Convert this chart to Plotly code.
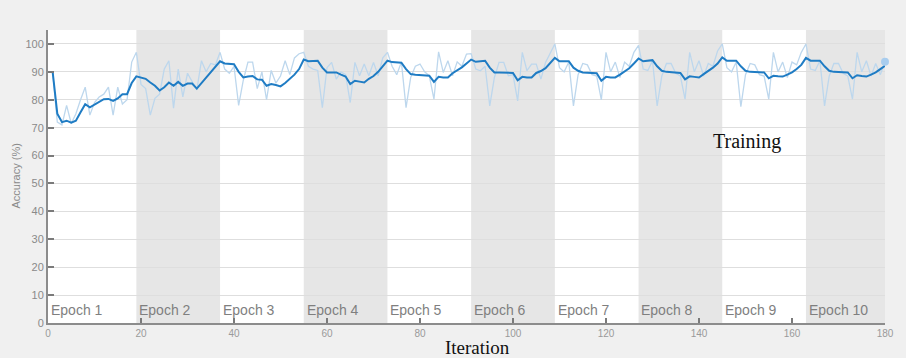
import plotly.graph_objects as go

# Training progress: per-iteration accuracy (%), 10 epochs x 18 iterations
iterations = list(range(1, 181))
iters_per_epoch = 18
epoch_labels = [f"Epoch {k}" for k in range(1, 11)]

# raw mini-batch accuracy, one list per epoch
raw_e1 = [90, 72, 71, 78, 71.5, 75, 80, 84.5, 74.5, 79, 81, 82, 84.5, 74.5, 84.5, 78.5, 80, 93.5]
raw_e2 = [97, 85.5, 84, 74.5, 80.5, 82, 91, 94, 77, 91, 81, 89.5, 86.5, 83.5, 94, 90, 93, 92.5]
raw_e3 = [97, 91, 89.5, 92, 78, 87, 93.5, 93.5, 84, 90, 80, 90.5, 86, 88.5, 94, 89, 95, 96.5]
raw_e4 = [97, 92, 91, 90.5, 77.2, 91.5, 93.4, 87.4, 90, 89, 79, 93.4, 88.6, 92.8, 88.6, 93.4, 88.6, 95]
raw_e5 = [97, 92, 89, 93.5, 77.2, 88, 92, 92.8, 90, 88.6, 80.2, 97.2, 89.8, 94, 88.6, 93.6, 92, 96.4]
raw_e6 = [96.5, 91, 90.4, 92, 77.8, 88, 93.4, 93.4, 88.6, 89, 79.6, 97, 90.4, 92.8, 92.8, 87.4, 93.4, 97]
raw_e7 = [100, 91.5, 90, 93.5, 77.8, 89, 93, 92.5, 89, 88.5, 80, 97, 90, 93.5, 88, 93.5, 92, 97]
raw_e8 = [99.5, 91, 90.5, 94, 77.8, 88.5, 93, 93, 89.5, 88.5, 80.2, 97, 90, 94, 88.5, 93, 92, 97.5]
raw_e9 = [100, 91.5, 90, 93.5, 77.5, 89, 93, 92.5, 89, 88.5, 80.2, 97, 90, 93.5, 88, 93.5, 92.5, 97]
raw_e10 = [100, 91, 90.5, 94, 77.8, 88.5, 93, 93, 89.5, 88.5, 80.2, 97, 90, 94, 88.5, 93, 89, 93.6]

# smoothed accuracy, one list per epoch
smooth_e1 = [90, 75, 72, 72.5, 71.8, 72.5, 75.5, 78.4, 77.3, 78.3, 79, 80.2, 80.3, 79.6, 80.5, 82, 82, 86]
smooth_e2 = [88.4, 88, 87.5, 86.2, 85, 83.3, 84.5, 86.2, 85, 86.4, 85, 85.8, 85.8, 84, 86, 87.8, 90, 92]
smooth_e3 = [93.8, 93, 92.8, 92.7, 90, 88, 88.3, 88.5, 87.3, 87.2, 85, 85.6, 85.3, 84.8, 86, 87.5, 89, 91]
smooth_e4 = [94.4, 93.8, 93.8, 94, 91.5, 89.8, 89.8, 89.8, 89, 88.3, 85.6, 86.8, 86.5, 86.2, 87.5, 88.5, 90, 91.8]
smooth_e5 = [94, 93.5, 93.4, 93.3, 91, 89.2, 89, 88.8, 88.6, 88.6, 86.4, 88.2, 88, 88, 89.5, 90.5, 91.6, 93]
smooth_e6 = [94.4, 93.6, 93.8, 94, 91.5, 89.8, 89.8, 89.8, 89.7, 89.6, 87, 88.2, 88, 88, 89.6, 90.3, 91.3, 93]
smooth_e7 = [95, 93.8, 93.8, 93.8, 91.5, 90.4, 89.8, 89.7, 89.5, 89.5, 86.8, 88.2, 88, 88, 89, 90, 91.3, 93]
smooth_e8 = [94.8, 93.8, 93.9, 94.2, 92, 90.4, 90, 89.8, 89.8, 89.6, 87.3, 88.4, 88.2, 88, 89.2, 90.2, 91.5, 93]
smooth_e9 = [95.2, 94, 94, 94, 92, 90.4, 90, 90, 89.9, 89.8, 87.7, 88.6, 88.4, 88.3, 89, 89.8, 91, 92.5]
smooth_e10 = [95, 94, 94, 94, 92, 90.4, 90, 90, 89.8, 89.8, 87.7, 88.8, 88.5, 88.3, 89, 89.8, 91, 92.2]

raw_acc = (raw_e1 + raw_e2 + raw_e3 + raw_e4 + raw_e5
           + raw_e6 + raw_e7 + raw_e8 + raw_e9 + raw_e10)
smooth_acc = (smooth_e1 + smooth_e2 + smooth_e3 + smooth_e4 + smooth_e5
              + smooth_e6 + smooth_e7 + smooth_e8 + smooth_e9 + smooth_e10)

y_ticks = list(range(0, 101, 10))
x_ticks = list(range(0, 181, 20))

W, H = 906, 358
ML, MR, MT, MB = 48, 19, 30, 35
X_MAX = 180
Y_RANGE = [0, 105]

fig = go.Figure()

fig.add_trace(go.Scatter(
    x=iterations, y=raw_acc, mode="lines",
    line=dict(color="#bdd7ed", width=1.3),
    hoverinfo="skip", showlegend=False,
))
fig.add_trace(go.Scatter(
    x=iterations, y=smooth_acc, mode="lines",
    line=dict(color="#1f7cc4", width=2),
    showlegend=False,
))
fig.add_trace(go.Scatter(
    x=[iterations[-1]], y=[raw_acc[-1]], mode="markers",
    marker=dict(color="#a9cdee", size=8),
    showlegend=False, cliponaxis=False,
))

shapes = []
annotations = []
# epoch bands: even epochs shaded
edges = [0] + [k * iters_per_epoch + 1 for k in range(1, 10)] + [X_MAX]
for k, label in enumerate(epoch_labels):
    x0, x1 = edges[k], edges[k + 1]
    if k % 2 == 1:
        shapes.append(dict(type="rect", xref="x", yref="paper", x0=x0, x1=x1,
                           y0=0, y1=1, fillcolor="#e6e6e6", line=dict(width=0),
                           layer="below"))
    annotations.append(dict(x=x0 + 0.2, y=4.7, xref="x", yref="y", text=label,
                            showarrow=False, xanchor="left", yanchor="middle",
                            font=dict(family="Arial, Liberation Sans", size=14,
                                      color="#7f7f7f")))

annotations.append(dict(x=-33 / (W - ML - MR), y=0.5, xref="paper", yref="paper",
                        text="Accuracy (%)", textangle=-90, showarrow=False,
                        xanchor="center", yanchor="middle",
                        font=dict(family="Arial, Liberation Sans", size=11,
                                  color="#8a8a8a")))
annotations.append(dict(x=0.5137, y=-0.083, xref="paper", yref="paper",
                        text="Iteration", showarrow=False,
                        xanchor="center", yanchor="middle",
                        font=dict(family="Liberation Serif, Times New Roman",
                                  size=19, color="#111111")))
annotations.append(dict(x=0.8355, y=0.621, xref="paper", yref="paper",
                        text="Training", showarrow=False,
                        xanchor="center", yanchor="middle",
                        font=dict(family="Liberation Serif, Times New Roman",
                                  size=20, color="#111111")))

fig.update_layout(
    width=W, height=H,
    margin=dict(l=ML, r=MR, t=MT, b=MB, pad=0),
    paper_bgcolor="#f0f0f0",
    plot_bgcolor="#ffffff",
    shapes=shapes,
    annotations=annotations,
    xaxis=dict(range=[0, X_MAX], tickvals=x_ticks, ticks="inside", ticklen=5,
               tickcolor="#7a7a7a", tickwidth=1.5, showgrid=False,
               showline=True, linecolor="#8c8c8c", linewidth=2,
               zeroline=False, tickfont=dict(family="Arial, Liberation Sans",
                                              size=10, color="#9a9a9a")),
    yaxis=dict(range=Y_RANGE, tickvals=y_ticks, ticks="inside", ticklen=6,
               tickcolor="#7a7a7a", tickwidth=1.5, showgrid=True,
               gridcolor="#dedede", gridwidth=1,
               showline=True, linecolor="#8c8c8c", linewidth=2,
               zeroline=False, tickfont=dict(family="Arial, Liberation Sans",
                                              size=11, color="#8a8a8a")),
)

fig.write_html("out.html")
